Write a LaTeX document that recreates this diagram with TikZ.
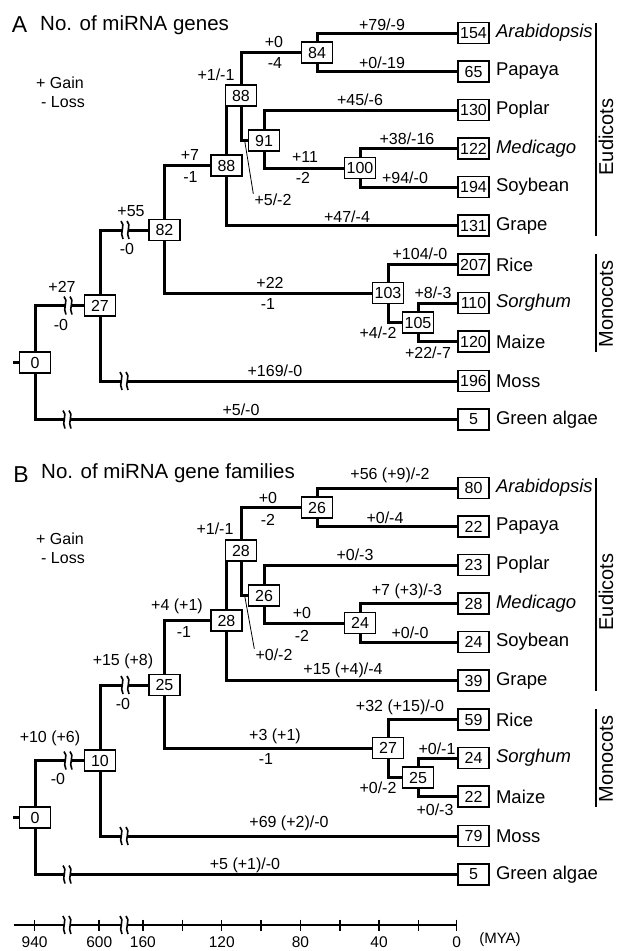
\documentclass[tikz,border=0pt]{standalone}
\usepackage{fontspec}
\setmainfont{Liberation Sans}
\usetikzlibrary{positioning}

\newcommand{\fsz}[1]{\fontsize{#1}{#1}\selectfont}

\begin{document}
\begin{tikzpicture}[x=1pt, y=-1pt,
    cnt/.style={draw, line width=1.7pt, fill=white, minimum width=31pt, minimum height=21pt, inner sep=0pt, font=\fsz{16}},
    br/.style={line width=3pt},
    lbl/.style={inner sep=0pt, font=\fsz{16}},
    sp/.style={inner sep=0pt, font=\fsz{18.5}},
    grp/.style={rotate=90, inner sep=0pt, font=\fsz{20}},
    grpbar/.style={line width=1.5pt},
    lead/.style={line width=0.8pt},
    brk/.pic={
      \fill[white] (-3,-2.5) rectangle (3,2.5);
      \draw[line width=1.6pt] (-4,-9) .. controls (1,-5) and (-6,3) .. (-2,9);
      \draw[line width=1.6pt] (2,-9) .. controls (7,-5) and (0,3) .. (4,9);
    }
  ]
\useasboundingbox (0,0) rectangle (617,951);

% ---- A: genes ----
\begin{scope}
\node[inner sep=0pt, font=\fsz{23}] (aLet) at (19.5,25) {A};
\node[anchor=west, inner sep=0pt, font=\fsz{20.5}] (aTtl) at (40,25) {No. of miRNA genes};
\node[lbl, anchor=west] (aGain) at (36,83) {+ Gain};
\node[lbl, anchor=west] (aLoss) at (41,102) {- Loss};

\foreach \n/\y/\c/\s in {Arab/33/154/\textit{Arabidopsis}, Papa/71.5/65/Papaya, Popl/110/130/Poplar,
    Medi/148.5/122/\textit{Medicago}, Soyb/187/194/Soybean, Grap/225.5/131/Grape, Rice/264.5/207/Rice,
    Sorg/303/110/\textit{Sorghum}, Maiz/341.5/120/Maize, Moss/381/196/Moss, Alga/419.5/5/Green algae}{
  \node[cnt] (a\n) at (473.5,\y) {\c};
  \node[sp, right=6pt of a\n] (as\n) {\s};
}

\node[cnt] (a84) at (317,52.5) {84};
\node[cnt] (a88u) at (241,95.5) {88};
\node[cnt] (a91) at (264,140.5) {91};
\node[cnt] (a100) at (360,168) {100};
\node[cnt] (a88l) at (226.5,165.5) {88};
\node[cnt] (a82) at (164.5,230) {82};
\node[cnt] (a103) at (388,293) {103};
\node[cnt] (a105) at (418,322.5) {105};
\node[cnt] (a27) at (100,305.5) {27};
\node[cnt] (a0) at (35,362.5) {0};

\draw[br] (a84) |- (aArab);
\draw[br] (a84) |- (aPapa);
\draw[br] (a88u) |- (a84);
\draw[br] (a88u) |- (a91);
\draw[br] (a91) |- (aPopl);
\draw[br] (a91) |- (a100);
\draw[br] (a100) |- (aMedi);
\draw[br] (a100) |- (aSoyb);
\draw[br] (a88l) -- (a88l |- a88u.south);
\draw[br] (a88l) |- (aGrap);
\draw[br] (a82) |- (a88l);
\draw[br] (a82) |- (a103);
\draw[br] (a103) |- (aRice);
\draw[br] (a103) |- (a105);
\draw[br] (a105) |- (aSorg);
\draw[br] (a105) |- (aMaiz);
\draw[br] (a27) |- (a82);
\draw[br] (a27) |- (aMoss);
\draw[br] (a0) |- (a27);
\draw[br] (a0) |- (aAlga);
\draw[br] (a0.west) -- ++(-6,0);
\pic at (125,230) {brk};
\pic at (124,381) {brk};
\pic at (68,305.5) {brk};
\pic at (67,419.5) {brk};

\node[lbl] (aLArab) at (382,25) {+79/-9};
\node[lbl] (aLPapa) at (382,62.5) {+0/-19};
\node[lbl] (aLPopl) at (360,100) {+45/-6};
\node[lbl] (aLMedi) at (407,138.5) {+38/-16};
\node[lbl] (aLSoyb) at (405,178) {+94/-0};
\node[lbl] (aLGrap) at (347,216.5) {+47/-4};
\node[lbl] (aLRice) at (420,253.5) {+104/-0};
\node[lbl] (aLSorg) at (433,292.5) {+8/-3};
\node[lbl] (aL105) at (378,333) {+4/-2};
\node[lbl] (aLMaiz) at (428,353) {+22/-7};
\node[lbl] (aLMoss) at (275,370.5) {+169/-0};
\node[lbl] (aLAlga) at (241,410) {+5/-0};
\node[lbl] (aL84g) at (274,41.5) {+0};
\node[lbl] (aL84l) at (275,63) {-4};
\node[lbl] (aL88u) at (216,75) {+1/-1};
\node[lbl] (aL88g) at (190,155) {+7};
\node[lbl] (aL88l) at (190.5,177) {-1};
\node[lbl] (aL100g) at (305,156.5) {+11};
\node[lbl] (aL100l) at (303,178) {-2};
\node[lbl] (aL91) at (273,200) {+5/-2};
\node[lbl] (aL82g) at (131,211) {+55};
\node[lbl] (aL82l) at (127,249) {-0};
\node[lbl] (aL103g) at (270,283) {+22};
\node[lbl] (aL103l) at (268,304) {-1};
\node[lbl] (aL27g) at (62,286.5) {+27};
\node[lbl] (aL27l) at (61,325) {-0};
\draw[lead] ([xshift=-3pt]a91.west) -- ([xshift=-1pt]aL91.north west);

\draw[grpbar] (596,22.5) -- (596,236);
\node[grp] (aEud) at (606,137) {Eudicots};
\draw[grpbar] (596,254) -- (596,352);
\node[grp] (aMon) at (606,304) {Monocots};
\end{scope}

% ---- B: gene families ----
\begin{scope}[yshift=-455pt]
\node[inner sep=0pt, font=\fsz{23}] (bLet) at (21,20) {B};
\node[anchor=west, inner sep=0pt, font=\fsz{20.5}] (bTtl) at (41,18) {No. of miRNA gene families};
\node[lbl, anchor=west] (bGain) at (36,84) {+ Gain};
\node[lbl, anchor=west] (bLoss) at (41,103) {- Loss};

\foreach \n/\y/\c/\s in {Arab/33/80/\textit{Arabidopsis}, Papa/71.5/22/Papaya, Popl/110/23/Poplar,
    Medi/148.5/28/\textit{Medicago}, Soyb/187/24/Soybean, Grap/225.5/39/Grape, Rice/264.5/59/Rice,
    Sorg/303/24/\textit{Sorghum}, Maiz/341.5/22/Maize, Moss/381/79/Moss, Alga/419.5/5/Green algae}{
  \node[cnt] (b\n) at (473.5,\y) {\c};
  \node[sp, right=6pt of b\n] (bs\n) {\s};
}

\node[cnt] (b26u) at (317,52.5) {26};
\node[cnt] (b28u) at (241,95.5) {28};
\node[cnt] (b26m) at (264,140.5) {26};
\node[cnt] (b24) at (360,168) {24};
\node[cnt] (b28l) at (226.5,165.5) {28};
\node[cnt] (b25) at (164.5,230) {25};
\node[cnt] (b27) at (388,293) {27};
\node[cnt] (b25m) at (418,322.5) {25};
\node[cnt] (b10) at (100,305.5) {10};
\node[cnt] (b0) at (35,362.5) {0};

\draw[br] (b26u) |- (bArab);
\draw[br] (b26u) |- (bPapa);
\draw[br] (b28u) |- (b26u);
\draw[br] (b28u) |- (b26m);
\draw[br] (b26m) |- (bPopl);
\draw[br] (b26m) |- (b24);
\draw[br] (b24) |- (bMedi);
\draw[br] (b24) |- (bSoyb);
\draw[br] (b28l) -- (b28l |- b28u.south);
\draw[br] (b28l) |- (bGrap);
\draw[br] (b25) |- (b28l);
\draw[br] (b25) |- (b27);
\draw[br] (b27) |- (bRice);
\draw[br] (b27) |- (b25m);
\draw[br] (b25m) |- (bSorg);
\draw[br] (b25m) |- (bMaiz);
\draw[br] (b10) |- (b25);
\draw[br] (b10) |- (bMoss);
\draw[br] (b0) |- (b10);
\draw[br] (b0) |- (bAlga);
\draw[br] (b0.west) -- ++(-6,0);
\pic at (125,230) {brk};
\pic at (124,381) {brk};
\pic at (68,305.5) {brk};
\pic at (67,419.5) {brk};

\node[lbl] (bLArab) at (390,20) {+56 (+9)/-2};
\node[lbl] (bLPapa) at (385,62.3) {+0/-4};
\node[lbl] (bLPopl) at (355,100) {+0/-3};
\node[lbl] (bLMedi) at (407,136.7) {+7 (+3)/-3};
\node[lbl] (bLSoyb) at (410,177.7) {+0/-0};
\node[lbl] (bLGrap) at (343,215) {+15 (+4)/-4};
\node[lbl] (bLRice) at (400,252.7) {+32 (+15)/-0};
\node[lbl] (bLSorg) at (437,293.3) {+0/-1};
\node[lbl] (bL25m) at (378,332.7) {+0/-2};
\node[lbl] (bLMaiz) at (435,354.3) {+0/-3};
\node[lbl] (bLMoss) at (289,368.3) {+69 (+2)/-0};
\node[lbl] (bLAlga) at (245,410) {+5 (+1)/-0};
\node[lbl] (bL26g) at (268,42.7) {+0};
\node[lbl] (bL26l) at (268,65) {-2};
\node[lbl] (bL28u) at (215,74) {+1/-1};
\node[lbl] (bL28g) at (177,151) {+4 (+1)};
\node[lbl] (bL28l) at (184,176.7) {-1};
\node[lbl] (bL24g) at (302,158.3) {+0};
\node[lbl] (bL24l) at (302,181) {-2};
\node[lbl] (bL26m) at (274,200) {+0/-2};
\node[lbl] (bL25g) at (123,206.7) {+15 (+8)};
\node[lbl] (bL25l) at (123,249.3) {-0};
\node[lbl] (bL27g) at (275,281) {+3 (+1)};
\node[lbl] (bL27l) at (266,304) {-1};
\node[lbl] (bL10g) at (50,283.3) {+10 (+6)};
\node[lbl] (bL10l) at (58,324) {-0};
\draw[lead] ([xshift=-3pt]b26m.west) -- ([xshift=-1pt]bL26m.north west);

\draw[grpbar] (596,22.5) -- (596,236);
\node[grp] (bEud) at (606,137) {Eudicots};
\draw[grpbar] (596,254) -- (596,352);
\node[grp] (bMon) at (606,304) {Monocots};
\end{scope}

% ---- time axis ----
\draw[line width=2pt] (13.8,925) -- (456.7,925);
\foreach \x in {34.6,99.2,142.9,182.3,221.7,261,300.4,339.8,379.1,418.5,456.7}
  \draw[line width=1.5pt] (\x,919.5) -- (\x,930.5);
\pic at (66.9,925) {brk};
\pic at (124,925) {brk};
\foreach \x/\t in {34.6/940,99.2/600,142.9/160,221.7/120,300.4/80,379.1/40,456.7/0}
  \node[lbl, font=\fsz{15.5}] (ax\t) at (\x,942) {\t};
\node[lbl, font=\fsz{15}] (axU) at (500,940) {(MYA)};
\end{tikzpicture}
\end{document}
